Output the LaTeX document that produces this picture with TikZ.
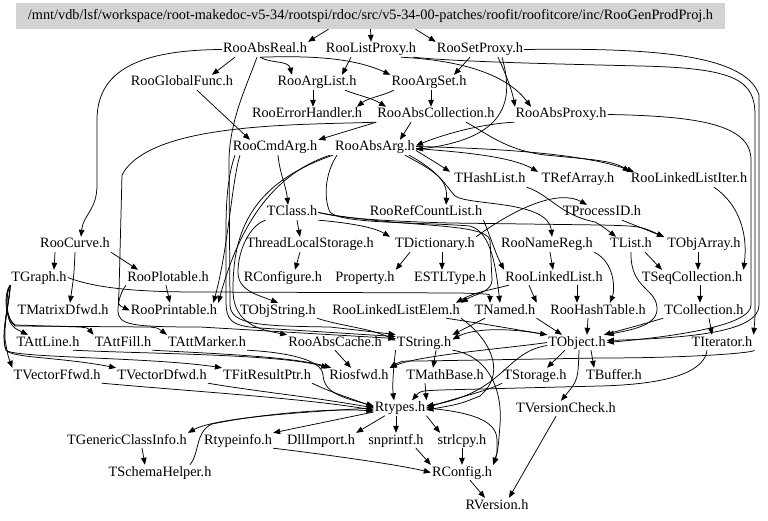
\documentclass[tikz,border=0pt]{standalone}
\usepackage{fontspec}
\setmainfont{Liberation Serif}
\usetikzlibrary{arrows.meta}
\begin{document}
\begin{tikzpicture}[x=1pt,y=-1pt,
  n/.style={font=\fontsize{14.3}{16}\selectfont, inner sep=1pt, text height=10pt, text depth=3pt},
  e/.style={draw=black, line width=0.75pt, -{Triangle[length=7pt,width=5.5pt]}}]
\useasboundingbox (0,0) rectangle (768,521);
\node[n, fill={rgb,255:red,211;green,211;blue,211}, minimum width=709pt, minimum height=26pt] (T) at (370.5,16) {/mnt/vdb/lsf/workspace/root-makedoc-v5-34/rootspi/rdoc/src/v5-34-00-patches/roofit/roofitcore/inc/RooGenProdProj.h};
\node[n] (absreal) at (265,49.5) {RooAbsReal.h};
\node[n] (listproxy) at (371,49.5) {RooListProxy.h};
\node[n] (setproxy) at (480,49.5) {RooSetProxy.h};
\node[n] (globalfunc) at (182,82.5) {RooGlobalFunc.h};
\node[n] (arglist) at (317,82.5) {RooArgList.h};
\node[n] (argset) at (429,82.5) {RooArgSet.h};
\node[n] (errorhandler) at (307,114.5) {RooErrorHandler.h};
\node[n] (abscollection) at (436,114.5) {RooAbsCollection.h};
\node[n] (absproxy) at (561,114.5) {RooAbsProxy.h};
\node[n] (cmdarg) at (275,147.5) {RooCmdArg.h};
\node[n] (absarg) at (375,147.5) {RooAbsArg.h};
\node[n] (hashlist) at (490,179.5) {THashList.h};
\node[n] (trefarray) at (578,179.5) {TRefArray.h};
\node[n] (linkedlistiter) at (689,179.5) {RooLinkedListIter.h};
\node[n] (tclass) at (292,212.5) {TClass.h};
\node[n] (refcountlist) at (426,212.5) {RooRefCountList.h};
\node[n] (tprocessid) at (602,212.5) {TProcessID.h};
\node[n] (roocurve) at (75,244.5) {RooCurve.h};
\node[n] (threadlocal) at (310,244.5) {ThreadLocalStorage.h};
\node[n] (tdictionary) at (435,244.5) {TDictionary.h};
\node[n] (roonamereg) at (547,244.5) {RooNameReg.h};
\node[n] (tlist) at (631,244.5) {TList.h};
\node[n] (tobjarray) at (704,244.5) {TObjArray.h};
\node[n] (tgraph) at (39,277.5) {TGraph.h};
\node[n] (rooplotable) at (168,277.5) {RooPlotable.h};
\node[n] (rconfigure) at (283,277.5) {RConfigure.h};
\node[n] (property) at (365,277.5) {Property.h};
\node[n] (estltype) at (450,277.5) {ESTLType.h};
\node[n] (roolinkedlist) at (554,277.5) {RooLinkedList.h};
\node[n] (tseqcollection) at (692,277.5) {TSeqCollection.h};
\node[n] (tmatrixdfwd) at (63,310.5) {TMatrixDfwd.h};
\node[n] (rooprintable) at (174,310.5) {RooPrintable.h};
\node[n] (tobjstring) at (278,310.5) {TObjString.h};
\node[n] (roolinkedlistelem) at (396,310.5) {RooLinkedListElem.h};
\node[n] (tnamed) at (505,310.5) {TNamed.h};
\node[n] (roohashtable) at (598,310.5) {RooHashTable.h};
\node[n] (tcollection) at (704,310.5) {TCollection.h};
\node[n] (tattline) at (48,342.5) {TAttLine.h};
\node[n] (tattfill) at (123,342.5) {TAttFill.h};
\node[n] (tattmarker) at (207,342.5) {TAttMarker.h};
\node[n] (rooabscache) at (335,342.5) {RooAbsCache.h};
\node[n] (tstring) at (424,342.5) {TString.h};
\node[n] (tobject) at (577,342.5) {TObject.h};
\node[n] (titerator) at (722,342.5) {TIterator.h};
\node[n] (tvectorffwd) at (57,375.5) {TVectorFfwd.h};
\node[n] (tvectordfwd) at (162,375.5) {TVectorDfwd.h};
\node[n] (tfitresultptr) at (267,375.5) {TFitResultPtr.h};
\node[n] (riosfwd) at (359,375.5) {Riosfwd.h};
\node[n] (tmathbase) at (445,375.5) {TMathBase.h};
\node[n] (tstorage) at (535,375.5) {TStorage.h};
\node[n] (tbuffer) at (614,375.5) {TBuffer.h};
\node[n] (rtypes) at (400,408) {Rtypes.h};
\node[n] (tversioncheck) at (566,408.5) {TVersionCheck.h};
\node[n] (tgenericclassinfo) at (127,440.5) {TGenericClassInfo.h};
\node[n] (rtypeinfo) at (238,440.5) {Rtypeinfo.h};
\node[n] (dllimport) at (321,440.5) {DllImport.h};
\node[n] (snprintf) at (396,440.5) {snprintf.h};
\node[n] (strlcpy) at (462,440.5) {strlcpy.h};
\node[n] (tschemahelper) at (160,472.5) {TSchemaHelper.h};
\node[n] (rconfig) at (462,472.5) {RConfig.h};
\node[n] (rversion) at (497,505.5) {RVersion.h};
% top
\draw[e] ([xshift=-42pt]T.south) -- (absreal.north east);
\draw[e] (T.south) -- (listproxy.north);
\draw[e] ([xshift=45pt]T.south) -- (setproxy.north west);
\draw[e] ([xshift=-30pt]absreal.south) -- ([xshift=30pt]globalfunc.north);
\draw[e] (absreal.west) .. controls (140,50) and (97,70) .. (97,120) -- (97,185) .. controls (97,210) and (83,215) .. ([xshift=6pt]roocurve.north);
\draw[e] ([xshift=-5pt]absreal.south) .. controls (272,64) and (288,60) .. ([xshift=-25pt]arglist.north);
\draw[e] ([xshift=-5pt]absreal.south) .. controls (300,56) and (350,56) .. (argset.north west);
\draw[e] ([xshift=-20pt]listproxy.south) -- ([xshift=25pt]arglist.north);
\draw[e] ([xshift=30pt]listproxy.south) .. controls (455,60) and (505,72) .. ([xshift=-30pt]absproxy.north);
\draw[e] ([xshift=-10pt]setproxy.south) -- ([xshift=25pt]argset.north);
\draw[e] ([xshift=18pt]setproxy.south) .. controls (505,72) and (512,90) .. ([xshift=-46pt]absproxy.north);
\draw[e] ([xshift=22pt]setproxy.south) .. controls (514,100) and (508,138) .. ([yshift=-2pt]absarg.east);
\draw[e] (absproxy.south west) .. controls (480,124) and (445,134) .. ([yshift=2pt]absarg.east);
\draw[e] ([xshift=42pt]listproxy.south) .. controls (460,62) and (560,64) .. (640,66) .. controls (735,68) and (755,80) .. (755,115) -- (755,300) .. controls (755,318) .. (titerator.north east);
\draw[e] (setproxy.east) .. controls (640,48) and (745,52) .. (759,95) -- (759,305) .. controls (759,332) and (690,338) .. ([yshift=2pt]tobject.east);
\draw[e] (absproxy.east) .. controls (700,116) and (751,125) .. (751,160) -- (751,305) .. controls (751,325) and (680,336) .. (tobject.east);
% rows 3-4
\draw[e] ([xshift=-4pt]arglist.south) -- ([xshift=6pt]errorhandler.north);
\draw[e] ([xshift=28pt]arglist.south) .. controls (360,96) and (372,98) .. ([xshift=-50pt]abscollection.north);
\draw[e] ([xshift=-35pt]argset.south) .. controls (382,96) and (368,98) .. ([xshift=50pt]errorhandler.north);
\draw[e] ([xshift=2pt]argset.south) -- ([xshift=-5pt]abscollection.north);
\draw[e] ([xshift=15pt]globalfunc.south) -- ([xshift=-25pt]cmdarg.north);
\draw[e] ([xshift=-25pt]abscollection.south) -- ([xshift=25pt]absarg.north);
\draw[e] (abscollection.south west) -- (cmdarg.north east);
\draw[e] (abscollection.south west) .. controls (300,125) and (150,122) .. (122,175) -- (119,292) .. controls (118,305) .. (rooprintable.west);
\draw[e] ([xshift=-8pt]absreal.south) .. controls (245,90) and (230,120) .. (229,160) -- (230,305) .. controls (231,325) and (260,326) .. (330,327) -- ([yshift=8pt]tstring.west);
\draw[e] ([xshift=30pt]abscollection.south) .. controls (485,132) and (505,150) .. (545,155) .. controls (585,159) and (612,160) .. (linkedlistiter.north west);
% absarg
\draw[e] ([yshift=-3pt]absarg.east) .. controls (425,156) and (435,162) .. ([xshift=-40pt]hashlist.north);
\draw[e] ([yshift=-1pt]absarg.east) .. controls (460,152) and (510,156) .. ([xshift=-40pt]trefarray.north);
\draw[e] ([yshift=1pt]absarg.east) .. controls (480,148) and (580,152) .. ([xshift=-55pt]linkedlistiter.north);
\draw[e] ([xshift=30pt]absarg.south) .. controls (432,170) and (448,178) .. ([xshift=20pt]refcountlist.north);
\draw[e] ([xshift=34pt]absarg.south) .. controls (440,172) and (445,185) .. (455,196) .. controls (470,206) and (548,200) .. ([xshift=5pt]roonamereg.north);
\draw[e] ([xshift=-45pt]absarg.south) .. controls (270,175) and (238,230) .. (rooprintable.north east);
\draw[e] ([xshift=-42pt]absarg.south) .. controls (245,185) and (233,240) .. (233,290) .. controls (233,325) and (262,330) .. (rooabscache.north west);
\draw[e] ([xshift=-38pt]absarg.south) .. controls (324,175) and (324,200) .. (330,212) .. controls (340,224) and (420,222) .. (470,226) .. controls (492,232) and (496,270) .. ([xshift=-5pt]tnamed.north);
% cmdarg
\draw[e] ([xshift=3pt]cmdarg.south) .. controls (280,175) and (286,185) .. ([xshift=-4pt]tclass.north);
\draw[e] ([xshift=-40pt]cmdarg.south) .. controls (228,175) and (226,200) .. (226,230) -- (226,300) .. controls (226,320) and (230,326) .. (260,328) -- ([yshift=6pt]tstring.west);
\draw[e] ([xshift=-35pt]cmdarg.south) .. controls (232,180) and (228,250) .. ([xshift=-5pt]rooprintable.north east);
% tclass
\draw[e] ([xshift=5pt]tclass.south) -- ([xshift=-10pt]threadlocal.north);
\draw[e] (tclass.south east) .. controls (340,222) and (372,226) .. ([xshift=-45pt]tdictionary.north);
\draw[e] (tclass.east) .. controls (340,218) and (380,221) .. (450,223) -- (600,225) .. controls (640,226) .. ([xshift=-40pt]tobjarray.north);
\draw[e] (tclass.south west) .. controls (250,225) and (238,250) .. (238,272) .. controls (238,290) and (255,294) .. (tobjstring.north);
\draw[e] (tclass.east) .. controls (400,228) and (485,222) .. (490,240) -- (492,280) .. controls (492,292) and (475,294) .. (roolinkedlistelem.north east);
% rows 6-8
\draw[e] ([xshift=-25pt]tdictionary.south) -- (property.north east);
\draw[e] ([xshift=7pt]tdictionary.south) -- ([xshift=-8pt]estltype.north);
\draw[e] (tdictionary.north east) .. controls (520,205) and (560,190) .. ([xshift=-15pt]tprocessid.north);
\draw[e] (refcountlist.south east) .. controls (488,230) and (496,255) .. (roolinkedlist.north west);
\draw[e] ([xshift=3pt]roonamereg.south) -- ([xshift=-1pt]roolinkedlist.north);
\draw[e] (roonamereg.south east) .. controls (615,262) and (615,290) .. ([xshift=12pt]roohashtable.north);
\draw[e] ([xshift=-45pt]roolinkedlist.south) .. controls (490,290) and (475,292) .. ([xshift=-5pt]roolinkedlistelem.north east);
\draw[e] ([xshift=-25pt]roolinkedlist.south) -- (tnamed.north east);
\draw[e] ([xshift=23pt]roolinkedlist.south) -- ([xshift=-21pt]roohashtable.north);
\draw[e] ([xshift=-10pt]threadlocal.south) -- ([xshift=12pt]rconfigure.north);
\draw[e] (hashlist.south east) .. controls (550,195) and (560,215) .. (595,222) .. controls (602,226) .. ([xshift=-15pt]tlist.north);
\draw[e] ([xshift=20pt]tprocessid.south) -- ([xshift=-40pt]tobjarray.north);
\draw[e] ([xshift=14pt]tlist.south) -- ([xshift=-30pt]tseqcollection.north);
\draw[e] ([xshift=-6pt]tobjarray.south) -- ([xshift=6pt]tseqcollection.north);
\draw[e] ([xshift=25pt]linkedlistiter.south) .. controls (740,205) and (748,235) .. (tseqcollection.north east);
\draw[e] (tlist.south) .. controls (630,290) and (658,288) .. (657,310) .. controls (656,326) and (630,330) .. (tobject.north east);
\draw[e] ([xshift=8pt]tseqcollection.south) -- ([xshift=-4pt]tcollection.north);
% left
\draw[e] ([xshift=-20pt]roocurve.south) -- ([xshift=15pt]tgraph.north);
\draw[e] (roocurve.south east) -- ([xshift=-30pt]rooplotable.north);
\draw[e] (roocurve.south) .. controls (74,275) .. ([xshift=7pt]tmatrixdfwd.north);
\draw[e] ([xshift=-2pt]rooplotable.south) -- ([xshift=-4pt]rooprintable.north);
\draw[e] (tgraph.east) .. controls (100,290) and (150,292) .. (200,292) -- (460,293) .. controls (490,294) .. ([xshift=-15pt]tnamed.north);
\draw[e] (rooplotable.south west) .. controls (122,290) and (118,300) .. (118,310) .. controls (118,325) and (130,327) .. (200,327) -- ([yshift=4pt]tstring.west);
\draw[e] (tgraph.south west) .. controls (6,292) and (6,315) .. (10,322) .. controls (14,328) .. ([xshift=-20pt]tattline.north);
\draw[e] (tgraph.south west) .. controls (5,292) and (5,318) .. (15,325) -- (80,327) .. controls (88,328) .. (tattfill.north west);
\draw[e] (tgraph.south west) .. controls (4,292) and (4,318) .. (15,326) -- (150,327) .. controls (158,328) .. (tattmarker.north west);
\draw[e] (tgraph.south west) .. controls (10,300) and (2,330) .. (6,345) .. controls (8,356) .. (tvectorffwd.north west);
\draw[e] (tgraph.south west) .. controls (10,300) and (0,335) .. (6,350) .. controls (10,358) and (60,357) .. (tvectordfwd.north west);
\draw[e] (tgraph.south west) .. controls (10,300) and (0,335) .. (6,350) .. controls (10,358) and (150,357) .. (tfitresultptr.north west);
% lower
\draw[e] ([xshift=25pt]tattline.south) .. controls (150,354) and (280,354) .. (riosfwd.north west);
\draw[e] (tattfill.south east) .. controls (200,353) and (290,356) .. ([xshift=3pt]riosfwd.north west);
\draw[e] (tattmarker.south east) .. controls (280,352) and (322,358) .. (323,375) .. controls (324,394) and (345,398) .. ([yshift=2pt]rtypes.west);
\draw[e] (rooabscache.south) -- ([xshift=-8pt]riosfwd.north);
\draw[e] (tobjstring.south east) .. controls (340,326) and (370,328) .. ([yshift=2pt]tstring.west);
\draw[e] (tvectorffwd.south east) .. controls (200,392) and (300,398) .. ([yshift=-2pt]rtypes.west);
\draw[e] (tvectordfwd.south east) .. controls (260,392) and (320,398) .. (rtypes.west);
\draw[e] (tfitresultptr.south east) .. controls (330,392) and (350,398) .. ([yshift=1pt]rtypes.west);
\draw[e] (rtypes.west) .. controls (300,412) and (215,418) .. (tgenericclassinfo.north east);
\draw[e] ([xshift=30pt]tschemahelper.north) .. controls (200,452) and (195,432) .. (212,424) .. controls (260,414) and (330,408) .. ([yshift=-3pt]rtypes.west);
\draw[e] ([xshift=15pt]tgenericclassinfo.south) -- ([xshift=-15pt]tschemahelper.north);
\draw[e] ([yshift=-4pt]rtypes.west) -- (rtypeinfo.north east);
\draw[e] ([xshift=-15pt]rtypes.south) -- (dllimport.north east);
\draw[e] ([xshift=-4pt]rtypes.south) -- (snprintf.north);
\draw[e] (rtypes.south east) -- ([xshift=-22pt]strlcpy.north);
\draw[e] (rtypes.east) .. controls (470,412) and (497,420) .. (497,440) .. controls (497,455) .. (rconfig.north east);
\draw[e] (rtypeinfo.south east) .. controls (330,455) and (400,465) .. (rconfig.west);
\draw[e] ([xshift=20pt]snprintf.south) -- (rconfig.north west);
\draw[e] (strlcpy.south) -- (rconfig.north);
\draw[e] ([xshift=8pt]rconfig.south) -- ([xshift=-12pt]rversion.north);
\draw[e] ([xshift=-10pt]tversioncheck.south) -- ([xshift=12pt]rversion.north);
\draw[e] ([xshift=2pt]tobject.south) .. controls (578,380) .. ([xshift=-5pt]tversioncheck.north);
\draw[e] ([xshift=-12pt]tobject.south) -- ([xshift=12pt]tstorage.north);
\draw[e] ([xshift=14pt]tobject.south) -- ([xshift=-20pt]tbuffer.north);
\draw[e] (tobject.west) .. controls (510,348) and (420,355) .. (riosfwd.north east);
\draw[e] ([yshift=-3pt]tobject.west) .. controls (505,352) and (505,392) .. ([yshift=2pt]rtypes.east);
\draw[e] (titerator.south east) .. controls (760,352) and (700,358) .. (600,358) -- (420,361) .. controls (400,361) .. (riosfwd.north east);
\draw[e] ([xshift=-15pt]titerator.south) .. controls (705,368) and (680,384) .. (600,386) -- (440,390) .. controls (420,391) .. ([xshift=12pt]rtypes.north);
\draw[e] ([xshift=-20pt]tmathbase.south) -- (rtypes.north east);
\draw[e] (tstring.south west) .. controls (394,362) and (392,385) .. ([xshift=-6pt]rtypes.north);
\draw[e] ([xshift=12pt]tstring.south) -- ([xshift=-12pt]tmathbase.north);
\draw[e] (tstring.south east) .. controls (485,355) and (503,385) .. (500,425) .. controls (498,450) .. (rconfig.north east);
\draw[e] (tstorage.south west) .. controls (485,392) and (455,398) .. (rtypes.east);
\draw[e] (roolinkedlistelem.south east) .. controls (485,335) and (510,370) .. (480,396) .. controls (460,404) .. ([yshift=-2pt]rtypes.east);
% rows 9-10
\draw[e] ([xshift=-20pt]tnamed.south) -- (tstring.north east);
\draw[e] (tnamed.south east) -- ([xshift=-15pt]tobject.north);
\draw[e] ([xshift=50pt]roolinkedlistelem.south) .. controls (490,325) .. (tobject.north west);
\draw[e] ([xshift=-10pt]roohashtable.south) -- ([xshift=10pt]tobject.north);
\draw[e] (tcollection.south west) .. controls (640,325) .. ([xshift=-3pt]tobject.north east);
\draw[e] ([xshift=5pt]tcollection.south) -- ([xshift=-10pt]titerator.north);
\draw[e] (tobject.north west) .. controls (500,326) and (470,330) .. ([yshift=3pt]tstring.east);
\end{tikzpicture}
\end{document}
